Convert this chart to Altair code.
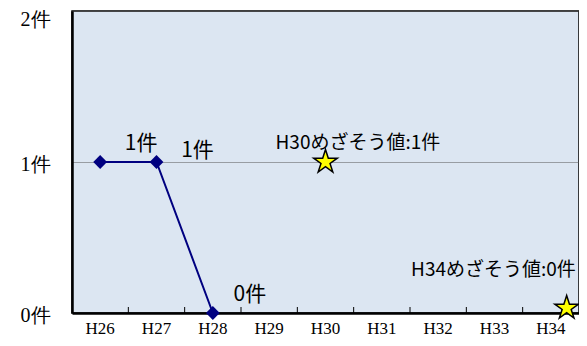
import altair as alt
import pandas as pd

years = ["H26", "H27", "H28", "H29", "H30", "H31", "H32", "H33", "H34"]
actual_years = ["H26", "H27", "H28"]
actual_values = [1, 1, 0]
actual_labels = ["1件", "1件", "0件"]
goal_years = ["H30", "H34"]
goal_values = [1, 0]
goal_labels = ["H30めざそう値:1件", "H34めざそう値:0件"]
y_ticks = [0, 1, 2]

act = pd.DataFrame({"year": actual_years, "value": actual_values, "label": actual_labels})
goal = pd.DataFrame({"year": goal_years, "value": goal_values, "label": goal_labels})
bounds = pd.DataFrame({"year": years[1:]})

W, H = 507, 302
xscale = alt.Scale(domain=years, paddingInner=0, paddingOuter=0)
yscale = alt.Scale(domain=[0, 2], nice=False)

STAR = ("M0,-1L0.2245,-0.309L0.9511,-0.309L0.3633,0.118L0.5878,0.809L0,0.382"
        "L-0.5878,0.809L-0.3633,0.118L-0.9511,-0.309L-0.2245,-0.309Z")

xaxis = alt.Axis(labelAngle=0, labelFont="Liberation Serif", labelFontSize=17,
                 labelColor="black", labelPadding=7, ticks=False, orient="bottom",
                 domainColor="black", domainWidth=2.5, grid=False)
yaxis = alt.Axis(values=y_ticks, labelExpr="datum.value + '件'", orient="left",
                 labelFont="Liberation Serif", labelFontSize=20, labelColor="black",
                 labelPadding=22,
                 labelOffset={"condition": {"test": "datum.value == 2", "value": 8}, "value": 2},
                 ticks=False, domainColor="black", domainWidth=2.5,
                 grid=True, gridColor="#555555", gridDash=[1, 1], gridWidth=1)


def xe(**kw):
    return alt.X("year:N", scale=xscale, sort=years, title=None, axis=xaxis, **kw)


def ye():
    return alt.Y("value:Q", scale=yscale, title=None, axis=yaxis)


line = alt.Chart(act).mark_line(color="#000080", strokeWidth=2).encode(x=xe(), y=ye())
pts = alt.Chart(act).mark_point(shape="diamond", filled=True, color="#000080", size=190, opacity=1).encode(
    x=xe(), y=ye())

inner_ticks = alt.Chart(bounds).mark_rule(color="black", strokeWidth=1).encode(
    x=xe(bandPosition=0), y=alt.value(H - 6), y2=alt.value(H))


def lab(i, dx, dy):
    return alt.Chart(act.iloc[[i]]).mark_text(
        font="Noto Sans CJK JP", fontSize=21, color="black", dx=dx, dy=dy).encode(
        x=xe(), y=ye(), text="label:N")


l1 = lab(0, 41, -18)
l2 = lab(1, 41, -11)
l3 = lab(2, 37, -18)

star30 = alt.Chart(goal.iloc[[0]]).mark_point(shape=STAR, filled=True, fill="#FFFF00", stroke="black",
                                               strokeWidth=1.5, size=620, opacity=1).encode(
    x=xe(), y=ye())
star34 = alt.Chart(goal.iloc[[1]]).mark_point(shape=STAR, filled=True, fill="#FFFF00", stroke="black",
                                               strokeWidth=1.5, size=620, opacity=1).encode(
    x=xe(), y=ye(), xOffset=alt.value(44), yOffset=alt.value(-5))

g30 = alt.Chart(goal.iloc[[0]]).mark_text(font="Noto Sans CJK JP", fontSize=19, color="black",
                                          align="left", dx=-50, dy=-19).encode(x=xe(), y=ye(), text="label:N")
g34 = alt.Chart(goal.iloc[[1]]).mark_text(font="Noto Sans CJK JP", fontSize=19, color="black",
                                          align="right", dx=25, dy=-43).encode(x=xe(), y=ye(), text="label:N")

chart = alt.layer(line, inner_ticks, pts, l1, l2, l3, star30, star34, g30, g34).properties(
    width=W, height=H,
    autosize=alt.AutoSizeParams(type="none"),
    padding={"left": 64, "top": 3, "right": 0, "bottom": 25},
    background="white",
).configure_axis(labelFont="Liberation Serif", labelColor="black"
).configure_view(fill="#DCE6F2", stroke="black", strokeWidth=1.5)

chart.save("out.html", embed_options={"renderer": "svg", "actions": False})
